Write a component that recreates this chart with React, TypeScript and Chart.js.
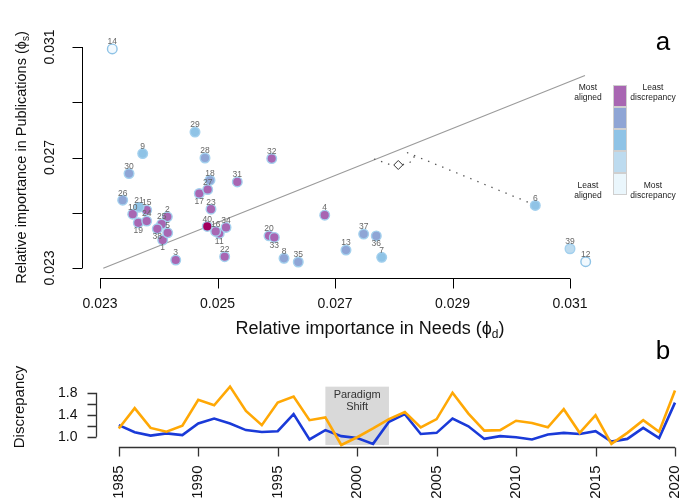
import React, { useEffect, useRef } from 'react';
import { Chart, registerables } from 'chart.js';
Chart.register(...registerables);

const FONT = '"Liberation Sans", Arial, sans-serif';

// ---------- panel a ----------
const topicIds = [1, 2, 3, 4, 5, 6, 7, 8, 9, 10, 11, 12, 13, 14, 15, 16, 17, 18, 19, 20, 21, 22, 23, 24, 25, 26, 27, 28, 29, 30, 31, 32, 33, 34, 35, 36, 37, 38, 39, 40];
const needsImportance = [
  0.024067, 0.024146, 0.024289, 0.026825, 0.024152, 0.030409, 0.027795, 0.026132, 0.023727, 0.023557,
  0.025029, 0.031267, 0.027187, 0.023209, 0.023795, 0.024969, 0.02469, 0.024872, 0.023652, 0.025877,
  0.023664, 0.025122, 0.024889, 0.023795, 0.02405, 0.023386, 0.024833, 0.024787, 0.024617, 0.023494,
  0.025337, 0.025923, 0.025967, 0.025145, 0.026375, 0.027703, 0.027488, 0.023975, 0.031, 0.024826,
];
const pubsImportance = [
  0.024011, 0.024852, 0.023289, 0.024913, 0.024274, 0.025263, 0.023386, 0.02335, 0.027141, 0.024949,
  0.024253, 0.023227, 0.02365, 0.030931, 0.025094, 0.024325, 0.025697, 0.026177, 0.024635, 0.024166,
  0.025202, 0.023408, 0.02513, 0.024697, 0.024588, 0.025455, 0.025841, 0.026982, 0.02792, 0.026419,
  0.026115, 0.02696, 0.024108, 0.024469, 0.023217, 0.024162, 0.024227, 0.024419, 0.023697, 0.024505,
];
// 0 = highlighted, 1 = most aligned ... 5 = least aligned
const alignmentClass = [1, 1, 1, 1, 1, 3, 3, 2, 3, 1, 1, 5, 2, 5, 1, 1, 1, 2, 1, 1, 3, 1, 1, 1, 1, 2, 1, 2, 3, 2, 1, 1, 1, 1, 2, 2, 2, 1, 4, 0];
const labelBelow = [1, 11, 17, 19, 33, 36, 38];
const diagonalNeeds = [0.023056, 0.031255];
const diagonalPubs = [0.02299, 0.029967];
const arcNeeds = [0.027664, 0.027936, 0.028208, 0.028345, 0.028345];
const arcPubs = [0.026946, 0.026747, 0.026747, 0.02691, 0.0271];
const pathNeeds = [0.028225, 0.030319];
const pathPubs = [0.027181, 0.025353];
const centroidNeeds = [0.028077];
const centroidPubs = [0.026729];
const classColors = ['#a3005f', '#a866b2', '#8fa5d5', '#8fc3e6', '#bddbef', '#f2f9fe'];
const legendColors = ['#a866b2', '#8fa5d5', '#8fc3e6', '#bddbef', '#eaf6fc'];
const axisTicks = [0.023, 0.025, 0.027, 0.029, 0.031];
const xTickLabels = ['0.023', '0.025', '0.027', '0.029', '0.031'];
const yTickLabels = ['0.023', '', '0.027', '', '0.031'];
const needsRangeMax = 0.0314;

// ---------- panel b ----------
const years = [1985, 1986, 1987, 1988, 1989, 1990, 1991, 1992, 1993, 1994, 1995, 1996, 1997, 1998, 1999, 2000, 2001, 2002, 2003, 2004, 2005, 2006, 2007, 2008, 2009, 2010, 2011, 2012, 2013, 2014, 2015, 2016, 2017, 2018, 2019, 2020];
const discrepancyOrange = [1.15, 1.52, 1.16, 1.09, 1.2, 1.67, 1.57, 1.91, 1.47, 1.21, 1.62, 1.73, 1.3, 1.35, 0.85, 0.99, 1.15, 1.32, 1.45, 1.17, 1.32, 1.8, 1.42, 1.11, 1.12, 1.29, 1.25, 1.17, 1.5, 1.07, 1.39, 0.87, 1.07, 1.3, 1.09, 1.84];
const discrepancyBlue = [1.21, 1.08, 1.02, 1.06, 1.03, 1.24, 1.33, 1.24, 1.12, 1.085, 1.1, 1.41, 0.95, 1.12, 1.01, 0.975, 0.87, 1.27, 1.41, 1.05, 1.07, 1.33, 1.19, 0.96, 1.01, 0.99, 0.95, 1.04, 1.07, 1.05, 1.1, 0.91, 0.96, 1.16, 0.975, 1.62];
const yearTicks = [1985, 1990, 1995, 2000, 2005, 2010, 2015, 2020];
const discTicks = [1.0, 1.2, 1.4, 1.6, 1.8];
const discTickLabels = ['1.0', '', '1.4', '', '1.8'];
const shiftStart = 1998;
const shiftEnd = 2002;

function drawSubTitle(ctx: CanvasRenderingContext2D, main: string, sub: string, tail: string, size: number) {
  const subSize = Math.round(size * 0.68);
  ctx.font = `${size}px ${FONT}`;
  const w1 = ctx.measureText(main).width;
  const w3 = ctx.measureText(tail).width;
  ctx.font = `${subSize}px ${FONT}`;
  const w2 = ctx.measureText(sub).width;
  const total = w1 + w2 + w3;
  let x = -total / 2;
  ctx.textAlign = 'left';
  ctx.textBaseline = 'middle';
  ctx.font = `${size}px ${FONT}`;
  ctx.fillText(main, x, 0);
  x += w1;
  ctx.font = `${subSize}px ${FONT}`;
  ctx.fillText(sub, x, size * 0.3);
  x += w2;
  ctx.font = `${size}px ${FONT}`;
  ctx.fillText(tail, x, 0);
}

const crisp = (v: number) => Math.round(v) + 0.5;

export default function App() {
  const topRef = useRef<HTMLCanvasElement>(null);
  const botRef = useRef<HTMLCanvasElement>(null);

  useEffect(() => {
    const points = topicIds.map((_, i) => ({ x: needsImportance[i], y: pubsImportance[i] }));
    const fills = alignmentClass.map((c) => classColors[c]);
    const borders = alignmentClass.map((c) => (c === 5 ? '#8fc3e6' : '#a3d0ee'));

    const topDecor = {
      id: 'topDecor',
      afterDatasetsDraw(chart: any) {
        const { ctx } = chart;
        const meta = chart.getDatasetMeta(0);
        ctx.save();
        ctx.fillStyle = '#666';
        ctx.font = `8.5px ${FONT}`;
        ctx.textAlign = 'center';
        ctx.textBaseline = 'middle';
        meta.data.forEach((el: any, i: number) => {
          const below = labelBelow.includes(topicIds[i]);
          ctx.fillText(String(topicIds[i]), el.x, below ? el.y + 8 : el.y - 7);
        });
        ctx.restore();
      },
      afterDraw(chart: any) {
        const { ctx, chartArea } = chart;
        const xs = chart.scales.x;
        const ys = chart.scales.y;
        ctx.save();
        ctx.strokeStyle = '#000';
        ctx.lineWidth = 1;
        const x0 = xs.getPixelForValue(axisTicks[0]);
        const x1 = xs.getPixelForValue(axisTicks[axisTicks.length - 1]);
        // x axis
        const axY = crisp(chartArea.bottom + 10);
        ctx.beginPath();
        ctx.moveTo(x0, axY);
        ctx.lineTo(x1, axY);
        axisTicks.forEach((t) => {
          const px = crisp(xs.getPixelForValue(t));
          ctx.moveTo(px, axY);
          ctx.lineTo(px, axY + 10);
        });
        // y axis
        const axX = crisp(chartArea.left - 18);
        const y0 = ys.getPixelForValue(axisTicks[0]);
        const y1 = ys.getPixelForValue(axisTicks[axisTicks.length - 1]);
        ctx.moveTo(axX, y0);
        ctx.lineTo(axX, y1);
        axisTicks.forEach((t) => {
          const py = crisp(ys.getPixelForValue(t));
          ctx.moveTo(axX, py);
          ctx.lineTo(axX - 10, py);
        });
        ctx.stroke();

        ctx.fillStyle = '#111';
        ctx.font = `14px ${FONT}`;
        ctx.textAlign = 'center';
        ctx.textBaseline = 'middle';
        axisTicks.forEach((t, i) => {
          ctx.fillText(xTickLabels[i], xs.getPixelForValue(t), axY + 26);
        });
        axisTicks.forEach((t, i) => {
          if (!yTickLabels[i]) return;
          ctx.save();
          ctx.translate(axX - 32, ys.getPixelForValue(t));
          ctx.rotate(-Math.PI / 2);
          ctx.fillText(yTickLabels[i], 0, 0);
          ctx.restore();
        });

        // titles
        ctx.save();
        ctx.translate((x0 + x1) / 2 + 35, axY + 51);
        drawSubTitle(ctx, 'Relative importance in Needs (\u03D5', 'd', ')', 18);
        ctx.restore();
        ctx.save();
        ctx.translate(22, (chartArea.top + chartArea.bottom) / 2);
        ctx.rotate(-Math.PI / 2);
        drawSubTitle(ctx, 'Relative importance in Publications (\u03D5', 's', ')', 14.5);
        ctx.restore();

        // legend bar
        const lx = 613;
        const ly = 85;
        const cw = 14;
        const ch = 22;
        legendColors.forEach((c, i) => {
          ctx.fillStyle = c;
          ctx.fillRect(lx, ly + i * ch, cw, ch);
          ctx.strokeStyle = '#cfcfcf';
          ctx.lineWidth = 1;
          ctx.strokeRect(lx + 0.5, ly + i * ch + 0.5, cw - 1, ch - 1);
        });
        ctx.fillStyle = '#222';
        ctx.font = `8.5px ${FONT}`;
        ctx.textAlign = 'center';
        ctx.fillText('Most', 588, 88);
        ctx.fillText('aligned', 588, 98);
        ctx.fillText('Least', 653, 88);
        ctx.fillText('discrepancy', 653, 98);
        ctx.fillText('Least', 588, 186);
        ctx.fillText('aligned', 588, 196);
        ctx.fillText('Most', 653, 186);
        ctx.fillText('discrepancy', 653, 196);

        // panel letter
        ctx.fillStyle = '#000';
        ctx.font = `26px ${FONT}`;
        ctx.fillText('a', 663, 43);
        ctx.restore();
      },
    };

    const top = new Chart(topRef.current!, {
      type: 'scatter',
      data: {
        datasets: [
          {
            data: points,
            backgroundColor: fills,
            borderColor: borders,
            borderWidth: 1.4,
            pointRadius: 4.8,
            clip: false,
          } as any,
          {
            data: centroidNeeds.map((x, i) => ({ x, y: centroidPubs[i] })),
            pointStyle: 'rectRot',
            pointRadius: 4.5,
            backgroundColor: '#ffffff',
            borderColor: '#333',
            borderWidth: 1,
            clip: false,
          } as any,
          {
            data: arcNeeds.map((x, i) => ({ x, y: arcPubs[i] })),
            showLine: true,
            pointRadius: 0,
            borderColor: '#555',
            borderWidth: 1.3,
            borderDash: [1.4, 6],
            clip: false,
          } as any,
          {
            data: pathNeeds.map((x, i) => ({ x, y: pathPubs[i] })),
            showLine: true,
            pointRadius: 0,
            borderColor: '#555',
            borderWidth: 1.3,
            borderDash: [1.4, 6.2],
            clip: false,
          } as any,
          {
            data: diagonalNeeds.map((x, i) => ({ x, y: diagonalPubs[i] })),
            showLine: true,
            pointRadius: 0,
            borderColor: '#9a9a9a',
            borderWidth: 1.1,
            clip: false,
          } as any,
        ],
      },
      options: {
        animation: false,
        responsive: false,
        devicePixelRatio: 1,
        events: [],
        layout: { padding: { left: 100, right: 98.5, top: 47, bottom: 77 } },
        scales: {
          x: { type: 'linear', min: axisTicks[0], max: needsRangeMax, display: false },
          y: { type: 'linear', min: axisTicks[0], max: axisTicks[4], display: false },
        },
        plugins: { legend: { display: false }, tooltip: { enabled: false } },
      },
      plugins: [topDecor],
    });

    const botDecor = {
      id: 'botDecor',
      beforeDatasetsDraw(chart: any) {
        const { ctx, chartArea } = chart;
        const xs = chart.scales.x;
        const a = xs.getPixelForValue(shiftStart);
        const b = xs.getPixelForValue(shiftEnd);
        ctx.save();
        ctx.fillStyle = '#d9d9d9';
        ctx.fillRect(a, chartArea.top, b - a, chartArea.bottom - chartArea.top);
        ctx.fillStyle = '#333';
        ctx.font = `11px ${FONT}`;
        ctx.textAlign = 'center';
        ctx.textBaseline = 'middle';
        ctx.fillText('Paradigm', (a + b) / 2, chartArea.top + 8.5);
        ctx.fillText('Shift', (a + b) / 2, chartArea.top + 20);
        ctx.restore();
      },
      afterDraw(chart: any) {
        const { ctx, chartArea } = chart;
        const xs = chart.scales.x;
        const ys = chart.scales.y;
        ctx.save();
        ctx.strokeStyle = '#333';
        ctx.lineWidth = 1.3;
        const axY = crisp(chartArea.bottom + 2.3);
        ctx.beginPath();
        ctx.moveTo(xs.getPixelForValue(yearTicks[0]), axY);
        ctx.lineTo(xs.getPixelForValue(yearTicks[yearTicks.length - 1]), axY);
        yearTicks.forEach((t) => {
          const px = crisp(xs.getPixelForValue(t));
          ctx.moveTo(px, axY);
          ctx.lineTo(px, axY + 9);
        });
        const axX = crisp(chartArea.left - 23);
        ctx.moveTo(axX, ys.getPixelForValue(discTicks[0]));
        ctx.lineTo(axX, ys.getPixelForValue(discTicks[discTicks.length - 1]));
        discTicks.forEach((t) => {
          const py = crisp(ys.getPixelForValue(t));
          ctx.moveTo(axX, py);
          ctx.lineTo(axX - 9, py);
        });
        ctx.stroke();

        ctx.fillStyle = '#111';
        ctx.font = `14px ${FONT}`;
        ctx.textAlign = 'right';
        ctx.textBaseline = 'middle';
        discTicks.forEach((t, i) => {
          if (discTickLabels[i]) ctx.fillText(discTickLabels[i], axX - 19, ys.getPixelForValue(t));
        });
        ctx.font = `15px ${FONT}`;
        yearTicks.forEach((t) => {
          ctx.save();
          ctx.translate(xs.getPixelForValue(t), axY + 18);
          ctx.rotate(-Math.PI / 2);
          ctx.textAlign = 'right';
          ctx.fillText(String(t), 0, 0);
          ctx.restore();
        });
        ctx.save();
        ctx.translate(20, 77);
        ctx.rotate(-Math.PI / 2);
        ctx.textAlign = 'center';
        ctx.fillText('Discrepancy', 0, 0);
        ctx.restore();

        ctx.fillStyle = '#000';
        ctx.font = `26px ${FONT}`;
        ctx.textAlign = 'center';
        ctx.fillText('b', 663, 22);
        ctx.restore();
      },
    };

    const bot = new Chart(botRef.current!, {
      type: 'line',
      data: {
        datasets: [
          {
            data: years.map((y, i) => ({ x: y, y: discrepancyOrange[i] })),
            borderColor: '#ffa805',
            borderWidth: 2.6,
            pointRadius: 0,
            tension: 0,
            clip: false,
          } as any,
          {
            data: years.map((y, i) => ({ x: y, y: discrepancyBlue[i] })),
            borderColor: '#1a3ad8',
            borderWidth: 2.6,
            pointRadius: 0,
            tension: 0,
            clip: false,
          } as any,
        ],
      },
      options: {
        animation: false,
        responsive: false,
        devicePixelRatio: 1,
        events: [],
        layout: { padding: { left: 118.8, right: 17, top: 56.65, bottom: 57.05 } },
        scales: {
          x: { type: 'linear', min: years[0], max: years[years.length - 1], display: false },
          y: { type: 'linear', min: 0.85, max: 1.91, display: false },
        },
        plugins: { legend: { display: false }, tooltip: { enabled: false } },
      },
      plugins: [botDecor],
    });

    return () => {
      top.destroy();
      bot.destroy();
    };
  }, []);

  return (
    <div style={{ position: 'relative', width: 692, height: 502, overflow: 'hidden', background: '#fff' }}>
      <style>{'body{margin:0}'}</style>
      <canvas ref={topRef} width={692} height={345} style={{ position: 'absolute', left: 0, top: 0, width: 692, height: 345 }} />
      <canvas ref={botRef} width={692} height={172} style={{ position: 'absolute', left: 0, top: 330, width: 692, height: 172 }} />
    </div>
  );
}
